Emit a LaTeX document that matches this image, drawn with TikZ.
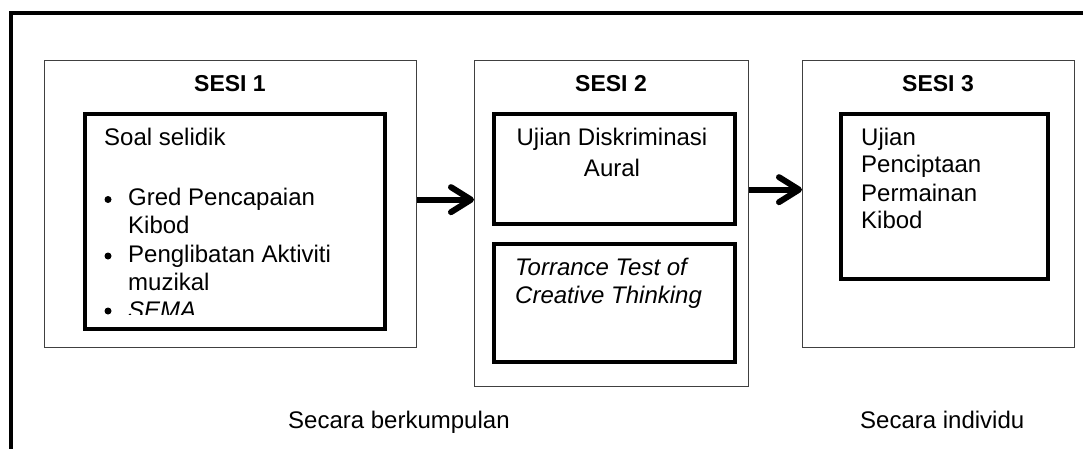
\documentclass[tikz,border=0pt]{standalone}
\usepackage{fontspec}
\setmainfont{Liberation Sans}
\usetikzlibrary{arrows.meta}
\tikzset{
  sessbox/.style={draw=black!75, line width=1.3pt, rectangle, inner sep=0pt, anchor=north west},
  innbox/.style={draw=black, line width=4pt, rectangle, inner sep=0pt, anchor=north west},
  ttl/.style={anchor=base, inner sep=0pt, font=\fontsize{23}{27}\selectfont\bfseries},
  txt/.style={anchor=base west, inner sep=0pt, font=\fontsize{24}{28.5}\selectfont},
  ctxt/.style={anchor=base, inner sep=0pt, font=\fontsize{24}{28.5}\selectfont},
  bul/.style={circle, fill=black, inner sep=0pt, minimum size=7pt},
  arr/.style={line width=6pt, -{Straight Barb[length=20pt,width=25pt,round]}}
}
\begin{document}
\begin{tikzpicture}[x=1pt,y=-1pt]
\useasboundingbox (0,0) rectangle (1083,449);
% outer frame
\coordinate (fTR) at (1083,13);
\coordinate (fTL) at (10.5,13);
\coordinate (fBL) at (10.5,449);
\draw[line width=4pt] (fTR) -- (fTL) -- (fBL);

% session boxes
\node[sessbox, minimum width=372pt, minimum height=287pt] (s1) at (44,60) {};
\node[sessbox, minimum width=274pt, minimum height=326pt] (s2) at (474,60) {};
\node[sessbox, minimum width=272pt, minimum height=287pt] (s3) at (802,60) {};

% inner boxes
\node[innbox, minimum width=300.5pt, minimum height=215pt] (i1) at (82.5,112) {};
\node[innbox, minimum width=241pt, minimum height=110pt] (i2a) at (492,112) {};
\node[innbox, minimum width=241pt, minimum height=118pt] (i2b) at (492,242) {};
\node[innbox, minimum width=207pt, minimum height=165pt] (i3) at (839,112) {};

% titles
\node[ttl] (t1) at (230,91.7) {SESI 1};
\node[ttl] (t2) at (611,91.7) {SESI 2};
\node[ttl] (t3) at (938,91.7) {SESI 3};

% session 1 content
\node[txt] (a0) at (104,145.7) {Soal selidik};
\node[bul] (b1) at (108,199.5) {};
\node[txt] (a1) at (128,205.7) {Gred Pencapaian};
\node[txt] (a2) at (128,233.5) {Kibod};
\node[bul] (b2) at (108,256) {};
\node[txt] (a3) at (128,262) {Penglibatan Aktiviti};
\node[txt] (a4) at (128,290) {muzikal};
\begin{scope}
\clip (84,115) rectangle (381,314);
\node[bul] (b3) at (108,311) {};
\node[txt, font=\fontsize{24}{28.5}\selectfont\itshape] (a5) at (128,318) {SEMA};
\end{scope}

% session 2 content
\node[ctxt] (c1) at (612,146) {Ujian Diskriminasi};
\node[ctxt] (c2) at (612,177) {Aural};
\node[txt, font=\fontsize{24}{28.5}\selectfont\itshape] (d1) at (515,275) {Torrance Test of};
\node[txt, font=\fontsize{24}{28.5}\selectfont\itshape] (d2) at (515,303) {Creative Thinking};

% session 3 content
\node[txt] (e1) at (861,145.7) {Ujian};
\node[txt] (e2) at (861,173) {Penciptaan};
\node[txt] (e3) at (861,201) {Permainan};
\node[txt] (e4) at (861,228) {Kibod};

% bottom labels
\node[txt] (l1) at (288,428) {Secara berkumpulan};
\node[txt] (l2) at (860,428) {Secara individu};

% arrows
\draw[arr] ([yshift=4.5pt]s1.east) -- ([yshift=4.5pt]s1.east -| s2.west);
\draw[arr] ([yshift=34pt]s2.east) -- ([yshift=34pt]s2.east -| s3.west);
\end{tikzpicture}
\end{document}
